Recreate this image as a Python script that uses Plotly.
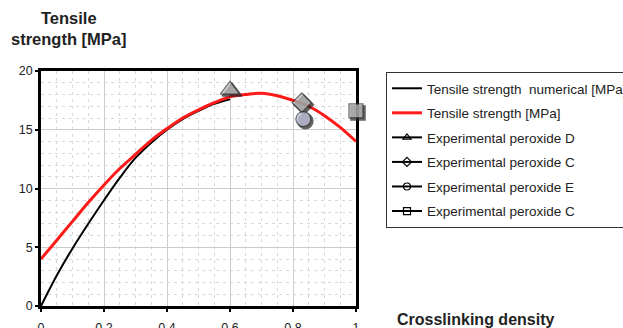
import plotly.graph_objects as go

# Crosslinking density grid for the fitted curves
density = [0.00, 0.05, 0.10, 0.15, 0.20, 0.25, 0.30, 0.35, 0.40, 0.45, 0.50,
           0.55, 0.60, 0.65, 0.70, 0.75, 0.80, 0.85, 0.90, 0.95, 1.00]
# Tensile strength [MPa] (red fit)
strength_fit = [4.0, 5.6, 7.2, 8.8, 10.3, 11.7, 12.9, 14.1, 15.1, 16.0, 16.7,
                17.3, 17.8, 18.0, 18.1, 17.9, 17.5, 17.0, 16.2, 15.2, 14.0]
# Numerical tensile strength [MPa] (black), defined up to 0.6
density_num = [0.00, 0.05, 0.10, 0.15, 0.20, 0.25, 0.30, 0.35, 0.40, 0.45,
               0.50, 0.55, 0.60]
strength_num = [0.0, 2.6, 4.9, 7.0, 9.0, 10.9, 12.6, 13.9, 15.0, 15.9,
                16.6, 17.2, 17.6]

# Experimental points
exp_names = ["Experimental peroxide D", "Experimental peroxide C",
             "Experimental peroxide E", "Experimental peroxide C"]
exp_x = [0.60, 0.828, 0.833, 1.00]
exp_y = [18.4, 17.3, 15.9, 16.6]
exp_symbols = ["triangle-up", "diamond", "circle", "square"]
exp_fill = ["#c4c4c4", "#c4c4c4", "#ccccec", "#c4c4c4"]
exp_sizes = [17, 15, 15, 14]
legend_symbols = ["triangle-up-open", "diamond-open", "circle-open", "square-open"]

FONT = "Liberation Sans, Arial, sans-serif"
W, H = 623, 328
# Paper area (pixels) and the plot frame inside it
L, R, T, B = 41, 223, 71, 20
paper_w, paper_h = W - L - R, H - T - B
frame_w, frame_h = 315, 235
SH = 2  # drop-shadow offset in pixels
x_range = [0, 1]
y_range = [0, 20]


def px(xp):
    return (xp - L) / paper_w


def py(yp):
    return (H - B - yp) / paper_h


fig = go.Figure()

fig.add_trace(go.Scatter(
    x=density_num, y=strength_num, mode="lines", line_shape="spline",
    line=dict(color="black", width=2),
    name="Tensile strength  numerical [MPa]", legendgroup="g1"))
fig.add_trace(go.Scatter(
    x=density, y=strength_fit, mode="lines", line_shape="spline",
    line=dict(color="#ff1a1a", width=3),
    name="Tensile strength [MPa]", legendgroup="g2"))

# Legend entries for the experimental series
for i, (nm, sym) in enumerate(zip(exp_names, legend_symbols)):
    fig.add_trace(go.Scatter(
        x=[None], y=[None], mode="lines+markers", name=nm,
        legendgroup=f"e{i}",
        line=dict(color="black", width=2),
        marker=dict(symbol=sym, size=7, color="black",
                    line=dict(color="black", width=1.2))))

# Shadows (on a subplot shifted by SH px) then the markers themselves
fig.add_trace(go.Scatter(
    x=exp_x, y=exp_y, mode="markers", xaxis="x2", yaxis="y2",
    showlegend=False, hoverinfo="skip", cliponaxis=False,
    marker=dict(symbol=exp_symbols, size=exp_sizes, color="#222222",
                line=dict(color="#222222", width=1.5))))
fig.add_trace(go.Scatter(
    x=exp_x, y=exp_y, mode="markers", xaxis="x3", yaxis="y3",
    showlegend=False, cliponaxis=False,
    marker=dict(symbol=exp_symbols, size=exp_sizes, color=exp_fill,
                line=dict(color="#333333", width=1.2))))

grid_major = "#cccccc"
grid_minor = "#d8d8d8"

main_xdom = [0, frame_w / paper_w]
main_ydom = [SH / paper_h, 1]
shadow_xdom = [SH / paper_w, (frame_w + SH) / paper_w]
shadow_ydom = [0, (paper_h - SH) / paper_h]

fig.update_layout(
    width=W, height=H,
    margin=dict(l=L, r=R, t=T, b=B, autoexpand=False),
    paper_bgcolor="white", plot_bgcolor="rgba(0,0,0,0)",
    font=dict(family=FONT, color="#222222"),
    showlegend=True,
    legend=dict(
        x=px(386), y=py(72), xanchor="left", yanchor="top",
        bgcolor="white", bordercolor="#333333", borderwidth=1,
        font=dict(family=FONT, size=13.5, color="#222222"),
        tracegroupgap=4, traceorder="grouped"),
    xaxis=dict(
        domain=main_xdom, range=x_range, dtick=0.2, tick0=0, showgrid=True,
        gridcolor=grid_major, gridwidth=1,
        minor=dict(dtick=0.05, showgrid=True, gridcolor=grid_minor,
                   griddash="3px,4px", gridwidth=1),
        showline=True, linecolor="black", linewidth=2.5, mirror=True,
        ticks="outside", ticklen=3, tickcolor="black", tickwidth=1.5,
        ticklabelstandoff=5,
        tickfont=dict(size=12.5, color="#222222"), zeroline=False),
    yaxis=dict(
        domain=main_ydom, range=y_range, dtick=5, tick0=0, showgrid=True,
        gridcolor=grid_major, gridwidth=1,
        minor=dict(dtick=1, showgrid=True, gridcolor=grid_minor,
                   griddash="3px,4px", gridwidth=1),
        showline=True, linecolor="black", linewidth=2.5, mirror=True,
        ticks="outside", ticklen=3, tickcolor="black", tickwidth=1.5,
        tickfont=dict(size=12.5, color="#222222"), zeroline=False),
    xaxis2=dict(domain=shadow_xdom, range=x_range, anchor="y2", visible=False),
    yaxis2=dict(domain=shadow_ydom, range=y_range, anchor="x2", visible=False),
    xaxis3=dict(domain=main_xdom, range=x_range, anchor="y3", visible=False),
    yaxis3=dict(domain=main_ydom, range=y_range, anchor="x3", visible=False),
    annotations=[
        dict(text="<b>Tensile<br>strength [MPa]</b>", xref="paper", yref="paper",
             x=px(69), y=py(7), xanchor="center", yanchor="top",
             showarrow=False, align="center",
             font=dict(family=FONT, size=16.5, color="#222222")),
        dict(text="<b>Crosslinking density</b>", xref="paper", yref="paper",
             x=px(395), y=py(309), xanchor="left", yanchor="top",
             showarrow=False,
             font=dict(family=FONT, size=16, color="#222222")),
    ],
)

fig.write_html("out.html")
